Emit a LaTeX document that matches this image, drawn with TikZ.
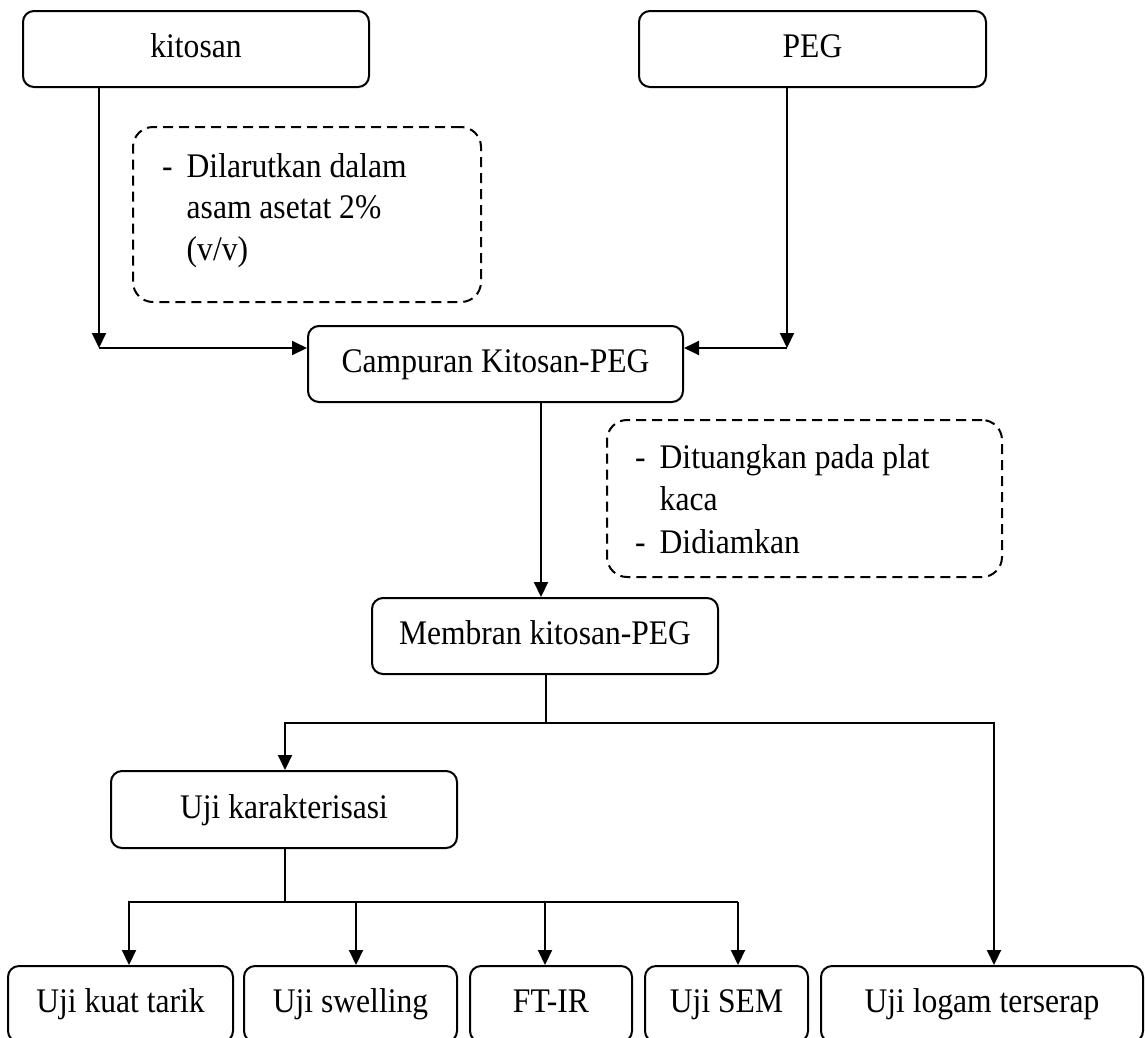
\documentclass[tikz,border=0pt]{standalone}
\usepackage{fontspec}
\setmainfont[FakeStretch=0.915]{Liberation Serif}
\usetikzlibrary{arrows.meta}
\begin{document}
\begin{tikzpicture}[x=1pt,y=-1pt,
  every node/.style={font=\fontsize{34.5}{41.5}\selectfont},
  box/.style={draw, line width=2pt, rounded corners=11pt, inner sep=0pt,
    minimum height=76pt, text height=24pt, text depth=7pt},
  note/.style={draw, dash pattern=on 10pt off 6pt, line width=2pt,
    rounded corners=20pt, inner sep=0pt},
  notetext/.style={anchor=base west, inner sep=0pt},
  ln/.style={line width=2pt},
  arr/.style={line width=2pt, -{Triangle[length=15pt,width=14pt]}}
]
\useasboundingbox (0,0) rectangle (1145,1037);

% main boxes
\node[box, minimum width=346pt] (kit) at (196,49) {kitosan};
\node[box, minimum width=347pt] (peg) at (812.5,49) {PEG};
\node[box, minimum width=375pt] (camp) at (495.5,364) {Campuran Kitosan-PEG};
\node[box, minimum width=346pt] (mem) at (545,636) {Membran kitosan-PEG};
\node[box, minimum width=346pt, minimum height=77pt] (uk) at (284,809.5) {Uji karakterisasi};
\node[box, minimum width=225pt] (tarik) at (120.5,1004) {Uji kuat tarik};
\node[box, minimum width=213pt] (swell) at (350.5,1004) {Uji swelling};
\node[box, minimum width=162pt] (ftir) at (551,1004) {FT-IR};
\node[box, minimum width=163pt] (sem) at (726.5,1004) {Uji SEM};
\node[box, minimum width=322pt] (logam) at (982,1004) {Uji logam terserap};

% notes
\node[note, minimum width=348pt, minimum height=175pt] (n1) at (307,214.5) {};
\node[notetext] (n1t) at (162,177) {\begin{tabular}[t]{@{}l@{\hspace{14pt}}l@{}}-&Dilarutkan dalam\\&asam asetat 2\%\\&(v/v)\end{tabular}};
\node[note, minimum width=395pt, minimum height=157pt] (n2) at (804.5,498.5) {};
\node[notetext] (n2t) at (635,468) {\begin{tabular}[t]{@{}l@{\hspace{14pt}}l@{}}-&Dituangkan pada plat\\[1pt]&kaca\\[1pt]-&Didiamkan\end{tabular}};

% connector coordinates
\coordinate (k1) at (99,348);
\coordinate (p1) at (787,348);
\coordinate (cx) at (541,0);
\coordinate (j1) at (546,723);
\coordinate (lx) at (994,0);
\coordinate (j2) at (285,902);
\coordinate (a1) at (129,0);
\coordinate (a2) at (356,0);
\coordinate (a3) at (545,0);
\coordinate (a4) at (738,0);

% top connectors
\draw[arr] (kit.south -| k1) -- (k1);
\draw[arr] (k1) -- (k1 -| camp.west);
\draw[arr] (peg.south -| p1) -- (p1);
\draw[arr] (p1) -- (p1 -| camp.east);
\draw[arr] (camp.south -| cx) -- (mem.north -| cx);

% membran branches
\draw[ln] (mem.south -| j1) -- (j1);
\draw[arr] (j1) -| (uk.north -| j2);
\draw[arr] (j1) -| (logam.north -| lx);

% characterisation branches
\draw[ln] (uk.south -| j2) -- (j2);
\draw[arr] (j2) -| (tarik.north -| a1);
\draw[ln] (j2) -- (j2 -| a4);
\draw[arr] (j2 -| a2) -- (swell.north -| a2);
\draw[arr] (j2 -| a3) -- (ftir.north -| a3);
\draw[arr] (j2 -| a4) -- (sem.north -| a4);
\end{tikzpicture}
\end{document}
